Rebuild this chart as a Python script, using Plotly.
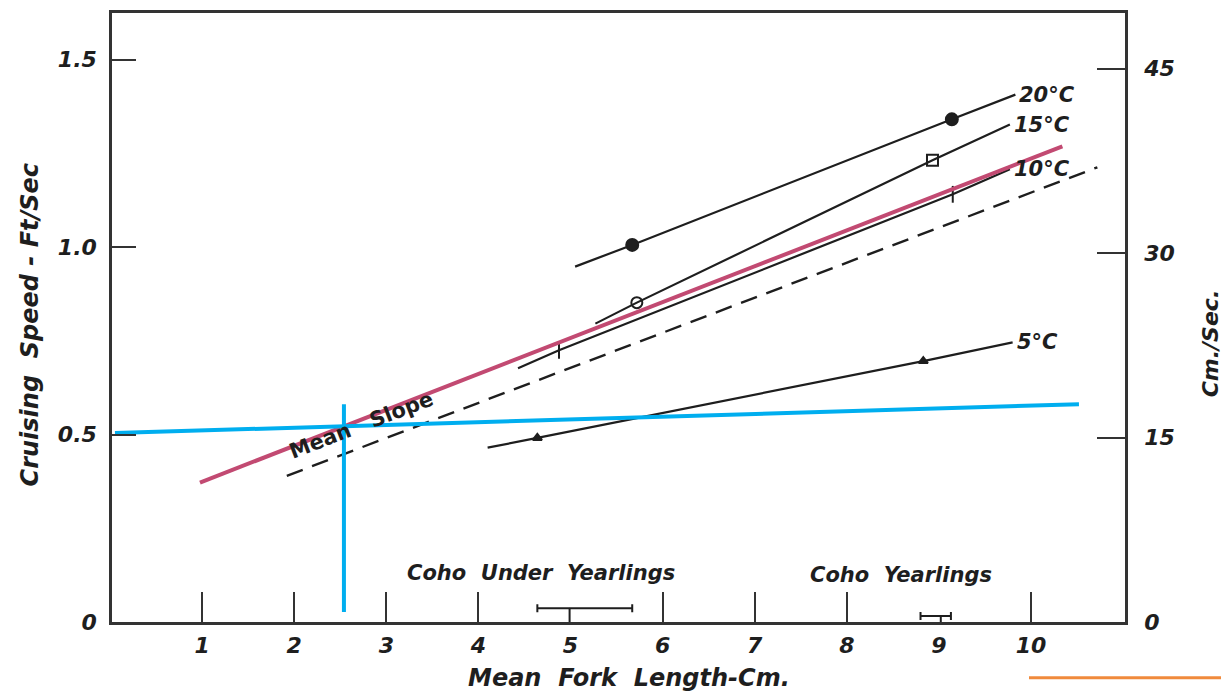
import plotly.graph_objects as go

# ---------------- data ----------------
# temperature lines: x = mean fork length (cm), y = cruising speed (ft/sec)
x_20 = [5.05, 5.67, 9.14, 9.83]
y_20 = [0.948, 1.006, 1.341, 1.407]
x_15 = [5.27, 5.72, 8.93, 9.77]
y_15 = [0.796, 0.852, 1.232, 1.327]
x_10 = [4.43, 4.875, 9.15, 9.77]
y_10 = [0.677, 0.725, 1.141, 1.208]
x_5 = [4.10, 4.64, 8.83, 9.80]
y_5 = [0.465, 0.491, 0.696, 0.746]
temp_labels = ["20°C", "15°C", "10°C", "5°C"]

# mean slope (dashed)
x_mean = [1.92, 10.72]
y_mean = [0.390, 1.213]

# overlay lines
x_red = [0.977, 10.34]
y_red = [0.372, 1.269]
x_cyan_h = [0.054, 10.52]
y_cyan_h = [0.504, 0.581]
x_cyan_v = [2.54, 2.54]
y_cyan_v = [0.027, 0.581]

# size ranges of fish groups
group_names = ["Coho Under Yearlings", "Coho Yearlings"]
range_center = [4.99, 9.02]
range_low = [4.64, 8.80]
range_high = [5.67, 9.13]
range_y = [0.037, 0.016]
group_label_x = [4.68, 8.59]
group_label_y = [0.130, 0.125]

x_ticks = [1, 2, 3, 4, 5, 6, 7, 8, 9, 10]
x_tick_marks = [1, 2, 3, 4, 6, 7, 8, 10]
y_ticks = [0, 0.5, 1.0, 1.5]
y_ticktext = ["0", "0.5", "1.0", "1.5"]
cm_ticks = [0, 15, 30, 45]

FT_TO_CM = 30.48
X_RANGE = [0.022, 11.02]
Y_RANGE = [0, 1.6247]

INK = "#1e1e1e"
FONT = "DejaVu Sans"

# page has an 8px body margin: figure is drawn 8px right / down
W, H = 1221, 685
ML, MT, MR, MB = 104, 2, 104, 71
PW, PH = W - ML - MR, H - MT - MB


def px_to_paper_x(px):  # reference-page pixel -> paper fraction
    return (px - 8 - ML) / PW


def py_to_paper_y(py):
    return (H - MB - (py - 8)) / PH


fig = go.Figure()

series = [(x_20, y_20, ["circle", "circle"], 12),
          (x_15, y_15, ["circle-open", "square-open"], 11),
          (x_10, y_10, ["line-ns", "line-ns"], 12),
          (x_5, y_5, ["triangle-up", "triangle-up"], 8)]

for xs, ys, syms, sz in series:
    fig.add_trace(go.Scatter(x=xs, y=ys, mode="lines",
                             line=dict(color=INK, width=2.2), showlegend=False))
    fig.add_trace(go.Scatter(x=xs[1:3], y=ys[1:3], mode="markers",
                             marker=dict(symbol=syms, size=sz, color=INK,
                                         line=dict(color=INK, width=2)),
                             showlegend=False))

fig.add_trace(go.Scatter(x=x_mean, y=y_mean, mode="lines",
                         line=dict(color=INK, width=2.4, dash="17px,10px"),
                         showlegend=False))

# range bars
fig.add_trace(go.Scatter(
    x=range_center, y=range_y, mode="markers",
    marker=dict(size=1, color=INK),
    error_x=dict(type="data", symmetric=False,
                 array=[h - c for h, c in zip(range_high, range_center)],
                 arrayminus=[c - l for c, l in zip(range_center, range_low)],
                 color=INK, thickness=2, width=4),
    error_y=dict(type="data", symmetric=False, array=[0, 0],
                 arrayminus=range_y, color=INK, thickness=2, width=0),
    showlegend=False))

# overlays
fig.add_trace(go.Scatter(x=x_red, y=y_red, mode="lines",
                         line=dict(color="#c24a72", width=4), showlegend=False))
fig.add_trace(go.Scatter(x=x_cyan_h, y=y_cyan_h, mode="lines",
                         line=dict(color="#00aeef", width=4), showlegend=False))
fig.add_trace(go.Scatter(x=x_cyan_v, y=y_cyan_v, mode="lines",
                         line=dict(color="#00aeef", width=4), showlegend=False))

# helper traces so the extra axes are drawn
fig.add_trace(go.Scatter(x=[], y=[], xaxis="x", yaxis="y2", showlegend=False))
fig.add_trace(go.Scatter(x=[], y=[], xaxis="x2", yaxis="y", showlegend=False))

textfont = dict(family=FONT, size=21, color=INK, style="italic", weight="bold")

annotations = []
for (xs, ys, _, _), lab in zip(series, temp_labels):
    annotations.append(dict(x=xs[-1], y=ys[-1], xref="x", yref="y", text=lab,
                            showarrow=False, xanchor="left", yanchor="middle",
                            xshift=2, font=textfont))

annotations.append(dict(x=2.73, y=0.526, xref="x", yref="y", text="Mean   Slope",
                        showarrow=False, textangle=-21, xanchor="center", yanchor="middle",
                        font=dict(family=FONT, size=21, color=INK, weight="bold")))

for name, gx, gy in zip(group_names, group_label_x, group_label_y):
    annotations.append(dict(x=gx, y=gy, xref="x", yref="y", text=name.replace(" ", "  "),
                            showarrow=False, xanchor="center", yanchor="middle",
                            font=textfont))

annotations.append(dict(x=px_to_paper_x(629), y=py_to_paper_y(678), xref="paper", yref="paper",
                        text="Mean  Fork  Length-Cm.", showarrow=False,
                        xanchor="center", yanchor="middle",
                        font=dict(family=FONT, size=24, color=INK, style="italic", weight="bold")))
annotations.append(dict(x=px_to_paper_x(30), y=py_to_paper_y(323), xref="paper", yref="paper",
                        text="Cruising  Speed - Ft/Sec", showarrow=False, textangle=-90,
                        xanchor="center", yanchor="middle",
                        font=dict(family=FONT, size=24, color=INK, style="italic", weight="bold")))
annotations.append(dict(x=px_to_paper_x(1210), y=py_to_paper_y(342), xref="paper", yref="paper",
                        text="Cm./Sec.", showarrow=False, textangle=-90,
                        xanchor="center", yanchor="middle",
                        font=dict(family=FONT, size=22, color=INK, style="italic", weight="bold")))

tickfont = dict(family=FONT, size=22, color=INK, style="italic", weight="bold")

fig.update_layout(
    width=W, height=H, autosize=False,
    margin=dict(l=ML, r=MR, t=MT, b=MB, pad=0),
    paper_bgcolor="white", plot_bgcolor="white",
    showlegend=False,
    xaxis=dict(range=X_RANGE, tickvals=x_ticks, ticktext=[str(v) for v in x_ticks],
               ticks="", showgrid=False, zeroline=False,
               showline=True, linecolor="#333", linewidth=2.5, mirror=True,
               tickfont=tickfont, ticklabelstandoff=2),
    xaxis2=dict(range=X_RANGE, overlaying="x", anchor="y", side="bottom",
                tickvals=x_tick_marks, ticks="inside", ticklen=30, tickwidth=2,
                tickcolor="#333", showticklabels=False, showgrid=False,
                zeroline=False, showline=False),
    yaxis=dict(range=Y_RANGE, tickvals=y_ticks, ticktext=y_ticktext,
               ticks="inside", ticklen=24, tickwidth=2, tickcolor="#333",
               showgrid=False, zeroline=False,
               showline=True, linecolor="#333", linewidth=2.5,
               tickfont=tickfont, ticklabelstandoff=8),
    yaxis2=dict(range=[Y_RANGE[0] * FT_TO_CM, Y_RANGE[1] * FT_TO_CM],
                overlaying="y", side="right", anchor="x",
                tickvals=cm_ticks, ticks="inside", ticklen=28, tickwidth=2,
                tickcolor="#333", showgrid=False, zeroline=False,
                showline=True, linecolor="#333", linewidth=2.5,
                tickfont=tickfont, ticklabelstandoff=12),
    annotations=annotations,
    shapes=[dict(type="line", xref="paper", yref="paper",
                 x0=px_to_paper_x(1029), x1=px_to_paper_x(1229),
                 y0=py_to_paper_y(678), y1=py_to_paper_y(678),
                 line=dict(color="#f08a3c", width=3))],
)

fig.write_html("out.html")
